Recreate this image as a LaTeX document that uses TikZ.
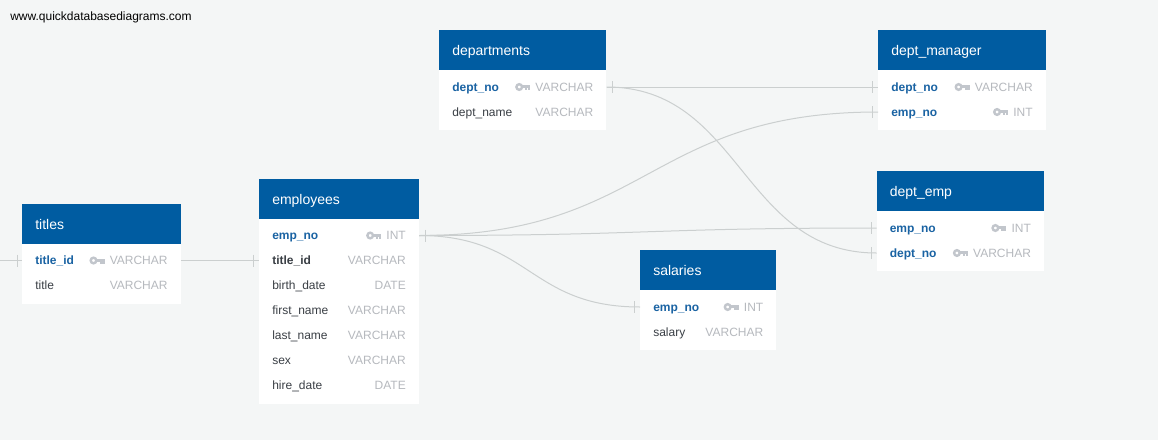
\documentclass[tikz,border=0pt]{standalone}
\usepackage{fontspec}
\setmainfont{Liberation Sans}
\definecolor{pagebg}{HTML}{F4F6F6}
\definecolor{headblue}{HTML}{005CA1}
\definecolor{keyblue}{HTML}{1A63A3}
\definecolor{fieldink}{HTML}{3A3F45}
\definecolor{typeink}{HTML}{B6B9BE}
\definecolor{keyink}{HTML}{C2C6CC}
\definecolor{linkline}{HTML}{CBCFCF}
\tikzset{
  tablebody/.style={fill=white,draw=none,inner sep=0pt,anchor=north west},
  tablehead/.style={fill=headblue,draw=none,inner sep=0pt,anchor=north west},
  headtext/.style={text=white,inner sep=0pt,anchor=base west,font=\fontsize{10.5}{12}\selectfont},
  pkfield/.style={text=keyblue,inner sep=0pt,anchor=base west,font=\fontsize{9}{11}\selectfont\bfseries},
  fkfield/.style={text=fieldink,inner sep=0pt,anchor=base west,font=\fontsize{9}{11}\selectfont\bfseries},
  plainfield/.style={text=fieldink,inner sep=0pt,anchor=base west,font=\fontsize{9}{11}\selectfont},
  typetext/.style={text=typeink,inner sep=0pt,anchor=base east,font=\fontsize{9}{11}\selectfont},
  link/.style={draw=linkline,line width=0.75pt},
  keyicon/.style={draw=keyink,line width=1.8pt},
}
% id, x0, y0, width, rows, title
\newcommand{\dbtable}[6]{%
  \node[tablebody,minimum width=#4*0.75pt,minimum height=(40+10+25*#5)*0.75pt] (#1) at (#2,#3) {};
  \node[tablehead,minimum width=#4*0.75pt,minimum height=40*0.75pt] (#1-head) at (#2,#3) {};
  \node[headtext] (#1-title) at (#2+13,#3+25) {#6};
}
% id, table, y, field style, label, type
\newcommand{\dbrow}[6]{%
  \coordinate (#1-l) at (#2.west |- 0,#3);
  \coordinate (#1-r) at (#2.east |- 0,#3);
  \node[#4] (#1-name) at ([xshift=13*0.75pt,yshift=-4.4*0.75pt]#1-l) {#5};
  \node[typetext] (#1-type) at ([xshift=-13*0.75pt,yshift=-4.4*0.75pt]#1-r) {#6};
}
\newcommand{\dbkey}[1]{%
  \begin{scope}[shift={([yshift=4.4*0.75pt]#1-type.base west)}]
    \draw[keyicon] (-16,0) circle (2.8);
    \fill[keyink] (-13.5,-1.6) rectangle (-5,1.3);
    \fill[keyink] (-10,1) rectangle (-7.8,3.4);
    \fill[keyink] (-7.2,1) rectangle (-5,3.4);
  \end{scope}
}
\newcommand{\crowfree}[2]{\draw[link] ([shift={(#2,-6)}]#1) -- ([shift={(#2,6)}]#1);}
\begin{document}
\begin{tikzpicture}[x=0.75pt,y=-0.75pt]
\useasboundingbox (0,0) rectangle (1158,440);
\fill[pagebg] (0,0) rectangle (1158,440);
\node[inner sep=0pt,anchor=base west,font=\fontsize{9}{11}\selectfont] (site) at (10,20) {www.quickdatabasediagrams.com};

\coordinate (offleft) at (0,260.5);

% tables
\dbtable{titles}{22}{204}{158.3}{2}{titles}
\dbrow{ti1}{titles}{260.5}{pkfield}{title\_id}{VARCHAR}\dbkey{ti1}
\dbrow{ti2}{titles}{285.5}{plainfield}{title}{VARCHAR}

\dbtable{emp}{259}{179}{159.5}{7}{employees}
\dbrow{em1}{emp}{235.5}{pkfield}{emp\_no}{INT}\dbkey{em1}
\dbrow{em2}{emp}{260.5}{fkfield}{title\_id}{VARCHAR}
\dbrow{em3}{emp}{285.5}{plainfield}{birth\_date}{DATE}
\dbrow{em4}{emp}{310.5}{plainfield}{first\_name}{VARCHAR}
\dbrow{em5}{emp}{335.5}{plainfield}{last\_name}{VARCHAR}
\dbrow{em6}{emp}{360.5}{plainfield}{sex}{VARCHAR}
\dbrow{em7}{emp}{385.5}{plainfield}{hire\_date}{DATE}

\dbtable{dep}{439}{30}{167}{2}{departments}
\dbrow{de1}{dep}{87}{pkfield}{dept\_no}{VARCHAR}\dbkey{de1}
\dbrow{de2}{dep}{112}{plainfield}{dept\_name}{VARCHAR}

\dbtable{mgr}{878}{30}{167.4}{2}{dept\_manager}
\dbrow{mg1}{mgr}{87}{pkfield}{dept\_no}{VARCHAR}\dbkey{mg1}
\dbrow{mg2}{mgr}{112}{pkfield}{emp\_no}{INT}\dbkey{mg2}

\dbtable{dem}{876.5}{171}{167.2}{2}{dept\_emp}
\dbrow{dm1}{dem}{228}{pkfield}{emp\_no}{INT}\dbkey{dm1}
\dbrow{dm2}{dem}{253}{pkfield}{dept\_no}{VARCHAR}\dbkey{dm2}

\dbtable{sal}{640}{250}{136}{2}{salaries}
\dbrow{sa1}{sal}{307}{pkfield}{emp\_no}{INT}\dbkey{sa1}
\dbrow{sa2}{sal}{332}{plainfield}{salary}{VARCHAR}

% connectors
\draw[link] (offleft) -- (ti1-l);
\crowfree{ti1-l}{-5}
\draw[link] (ti1-r) -- (em2-l);
\crowfree{em2-l}{-6}

\draw[link] (em1-r) .. controls +(230,0) and +(-230,0) .. (mg2-l);
\draw[link] (em1-r) .. controls +(229,0) and +(-229,0) .. (dm1-l);
\draw[link] (em1-r) .. controls +(111,0) and +(-111,0) .. (sa1-l);
\crowfree{em1-r}{6}
\crowfree{mg2-l}{-6}
\crowfree{dm1-l}{-5}
\crowfree{sa1-l}{-6}

\draw[link] (de1-r) -- (mg1-l);
\draw[link] (de1-r) .. controls +(135,0) and +(-135,0) .. (dm2-l);
\crowfree{de1-r}{6}
\crowfree{mg1-l}{-6}
\crowfree{dm2-l}{-5}
\end{tikzpicture}
\end{document}
